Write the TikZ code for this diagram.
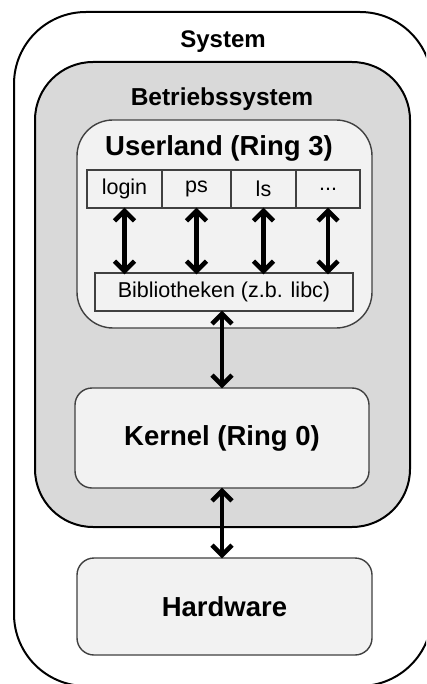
\documentclass[tikz,border=0pt]{standalone}
\usepackage{fontspec}
\setmainfont{Liberation Sans}
\usetikzlibrary{arrows.meta}
\definecolor{osgray}{HTML}{D9D9D9}
\definecolor{boxgray}{HTML}{F2F2F2}
\definecolor{edgegray}{HTML}{404040}
\tikzset{
  bigtitle/.style={font=\bfseries\fontsize{27.5}{30}\selectfont, inner sep=0pt},
  midtitle/.style={font=\bfseries\fontsize{24.5}{27}\selectfont, inner sep=0pt},
  cellbox/.style={draw=edgegray, line width=1.4pt, fill=boxgray, minimum height=38pt, inner sep=0pt, font=\fontsize{21.5}{24}\selectfont},
  roundbox/.style={draw=edgegray, line width=1.4pt, fill=boxgray, inner sep=0pt},
  biarrow/.style={line width=4.5pt, {Straight Barb[length=10pt,width=20pt]}-{Straight Barb[length=10pt,width=20pt]}},
}
\begin{document}
\begin{tikzpicture}[x=1pt,y=-1pt]
\useasboundingbox (0,0) rectangle (426,684);
\clip (0,0) rectangle (426,684);
\fill[white] (0,0) rectangle (426,684);
% System
\node[draw=black, line width=2pt, rounded corners=72pt, minimum width=418pt, minimum height=674pt, inner sep=0pt] (system) at (223,349) {};
\node[midtitle, font=\bfseries\fontsize{24}{26}\selectfont] (systemlabel) at (223,42) {System};
% Betriebssystem
\node[draw=black, line width=2pt, fill=osgray, rounded corners=58pt, minimum width=375pt, minimum height=465pt, inner sep=0pt] (os) at (222.5,294.5) {};
\node[midtitle] (oslabel) at (222,99) {Betriebssystem};
% Userland
\node[roundbox, rounded corners=36pt, minimum width=295pt, minimum height=208pt] (userland) at (224.5,224) {};
\node[bigtitle] (userlabel) at (219,148) {Userland (Ring 3)};
% cells
\node[cellbox, minimum width=75pt] (login) at (124.5,189) {login};
\node[cellbox, minimum width=69pt] (ps) at (196.5,189) {ps};
\node[cellbox, minimum width=65pt] (ls) at (263.5,189) {ls};
\node[cellbox, minimum width=64pt] (dots) at (328,189) {...};
% libraries
\node[cellbox, minimum width=258pt] (lib) at (224,292) {Bibliotheken (z.b. libc)};
% kernel
\node[roundbox, rounded corners=17pt, minimum width=294pt, minimum height=100pt, bigtitle] (kernel) at (222,438) {Kernel (Ring 0)};
% hardware
\node[roundbox, rounded corners=17pt, minimum width=295pt, minimum height=97pt, bigtitle] (hardware) at (224.5,606.5) {Hardware};
% arrows
\draw[biarrow] ([yshift=1pt]login.south) -- ([yshift=-2pt]login.south |- lib.north);
\draw[biarrow] ([yshift=1pt]ps.south) -- ([yshift=-2pt]ps.south |- lib.north);
\draw[biarrow] ([yshift=1pt]ls.south) -- ([yshift=-2pt]ls.south |- lib.north);
\draw[biarrow] ([yshift=1pt]dots.south) -- ([yshift=-2pt]dots.south |- lib.north);
\draw[biarrow] ([xshift=-2pt,yshift=1pt]lib.south) -- ([xshift=-2pt,yshift=-1pt]lib.south |- kernel.north);
\draw[biarrow] ([yshift=1pt]kernel.south) -- ([yshift=-1pt]kernel.south |- hardware.north);
\end{tikzpicture}
\end{document}
